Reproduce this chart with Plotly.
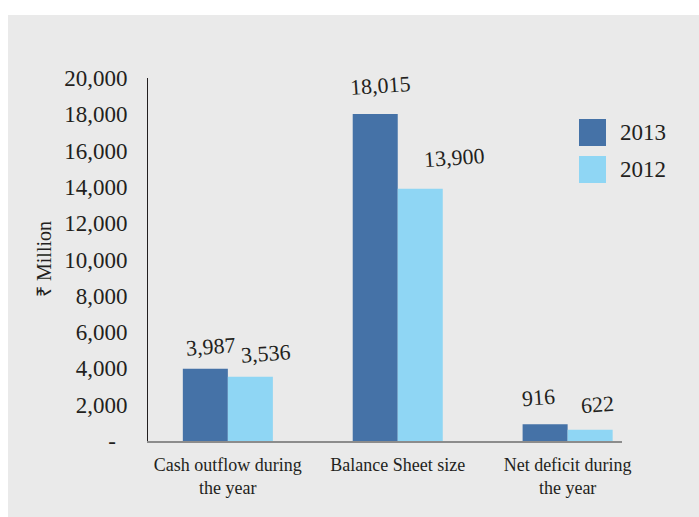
import plotly.graph_objects as go

categories = ["Cash outflow during<br>the year", "Balance Sheet size", "Net deficit during<br>the year"]
series_names = ["2013", "2012"]
values_2013 = [3987, 18015, 916]
values_2012 = [3536, 13900, 622]
y_tickvals = [0, 2000, 4000, 6000, 8000, 10000, 12000, 14000, 16000, 18000, 20000]
y_ticktext = ["-\u00a0\u00a0", "2,000", "4,000", "6,000", "8,000", "10,000", "12,000",
              "14,000", "16,000", "18,000", "20,000"]

DARK = "#4572A7"
LIGHT = "#8FD6F4"
BG = "#EAEAEA"
FONT = "Liberation Serif"
TXT = "#231F20"

# plot area in pixels
W, H = 699, 517
L, R, T, B = 148, 622, 78, 441

def px_x(p):
    return (p - L) / (R - L)

def px_y(p):
    return (B - p) / (B - T)

fig = go.Figure()
fig.add_trace(go.Bar(x=categories, y=values_2013, name=series_names[0], marker_color=DARK,
                     marker_line_width=0, showlegend=False))
fig.add_trace(go.Bar(x=categories, y=values_2012, name=series_names[1], marker_color=LIGHT,
                     marker_line_width=0, showlegend=False))

# value labels (slightly rotated), offsets are styling only
dark_dx = [-17, -17, -29]
light_dx = [38, 57, 30]
dark_dy = [22, 29, 27]
light_dy = [23, 31, 25]
annotations = []
for i, c in enumerate(categories):
    annotations.append(dict(x=c, y=values_2013[i], xref="x", yref="y", text=f"{values_2013[i]:,}",
                            showarrow=False, xshift=dark_dx[i], yshift=dark_dy[i], textangle=-4,
                            font=dict(family=FONT, size=22, color=TXT)))
    annotations.append(dict(x=c, y=values_2012[i], xref="x", yref="y", text=f"{values_2012[i]:,}",
                            showarrow=False, xshift=light_dx[i], yshift=light_dy[i], textangle=-4,
                            font=dict(family=FONT, size=22, color=TXT)))

# y-axis title
annotations.append(dict(x=px_x(44), y=px_y(259), xref="paper", yref="paper", text="₹ Million",
                        textangle=-90, showarrow=False, xanchor="center", yanchor="middle",
                        font=dict(family=FONT, size=20, color=TXT)))

# background panel and manual legend
shapes = [dict(type="rect", xref="paper", yref="paper", x0=px_x(8), x1=px_x(700),
               y0=px_y(518), y1=px_y(15), fillcolor=BG, line_width=0, layer="below")]
leg = [(series_names[0], DARK, 119), (series_names[1], LIGHT, 156)]
for name, col, top in leg:
    shapes.append(dict(type="rect", xref="paper", yref="paper", x0=px_x(579), x1=px_x(606),
                       y0=px_y(top + 27), y1=px_y(top), fillcolor=col, line_width=0))
    annotations.append(dict(x=px_x(618), y=px_y(top + 13.5), xref="paper", yref="paper",
                            text=name, showarrow=False, xanchor="left", yanchor="middle",
                            font=dict(family=FONT, size=23, color=TXT)))

fig.update_layout(
    width=W, height=H,
    margin=dict(l=L, r=W - R, t=T, b=H - B, pad=0),
    paper_bgcolor="white", plot_bgcolor="rgba(0,0,0,0)",
    barmode="group", bargap=0.47, bargroupgap=0,
    annotations=annotations, shapes=shapes,
    font=dict(family=FONT, color=TXT),
    xaxis=dict(range=[-0.47, 2.32], showgrid=False, zeroline=False, showline=True,
               linecolor="#8C8C8C", linewidth=2, ticks="", ticklabelstandoff=6,
               tickfont=dict(family=FONT, size=18, color=TXT)),
    yaxis=dict(range=[0, 20000], showgrid=False, zeroline=False, showline=True,
               linecolor="#231F20", linewidth=1, tickvals=y_tickvals, ticktext=y_ticktext,
               ticks="", ticklabelstandoff=15,
               tickfont=dict(family=FONT, size=23, color=TXT)),
)

fig.write_html("out.html", config={"displayModeBar": False},
               post_script="document.body.style.margin='0';document.body.style.overflow='hidden';")
